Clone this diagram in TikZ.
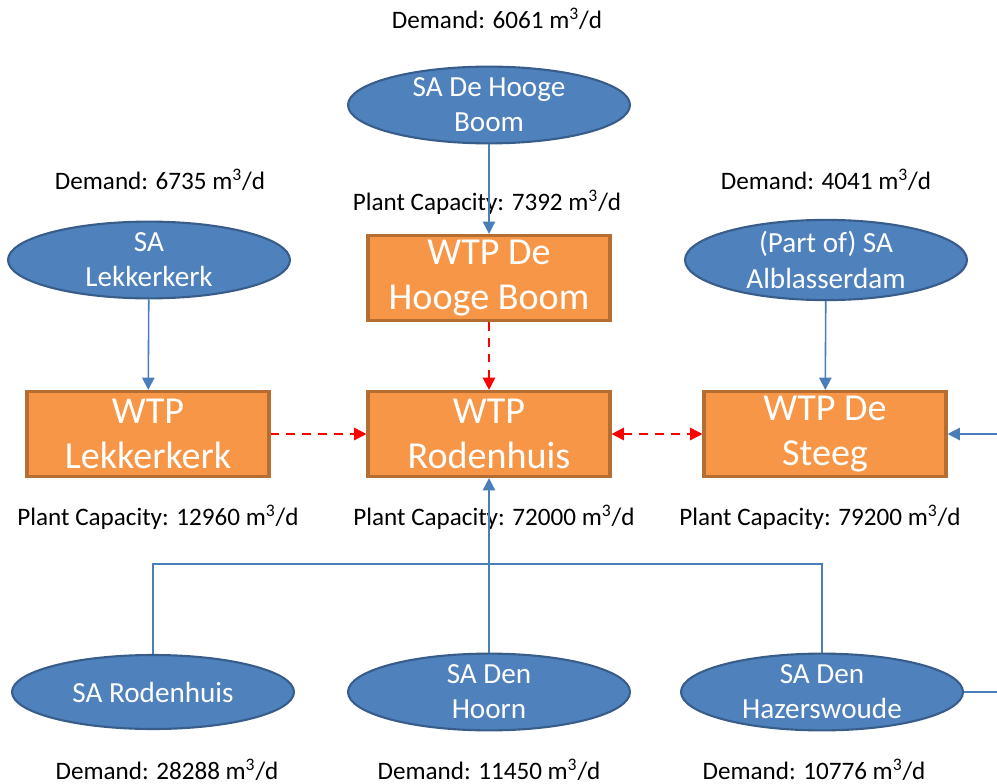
\documentclass[tikz,border=0pt]{standalone}
\usepackage{fontspec}
\setmainfont{Carlito}
\usepackage{xcolor}
\usetikzlibrary{positioning,arrows.meta,shapes.geometric}
\definecolor{safill}{HTML}{4F81BD}
\definecolor{saline}{HTML}{385D8A}
\definecolor{wtpfill}{HTML}{F79646}
\definecolor{wtpline}{HTML}{B66D31}
\definecolor{pipe}{HTML}{4A7EBB}

\begin{document}
\begin{tikzpicture}[x=0.02cm,y=-0.02cm,>={Triangle[length=7pt,width=7pt]},
	area/.style={ellipse,draw=saline,line width=1.2pt,fill=safill,text=white,minimum width=5.64cm,minimum height=1.48cm,inner sep=0pt,align=center,font=\fontsize{16.6}{20}\selectfont},
	plant/.style={rectangle,draw=wtpline,line width=1.8pt,fill=wtpfill,text=white,minimum width=4.84cm,minimum height=1.7cm,inner sep=0pt,align=center,font=\fontsize{21.7}{26}\selectfont},
	info/.style={font=\fontsize{14.3}{17}\selectfont,inner sep=0pt},
	supply/.style={->,draw=pipe,line width=0.9pt},
	transfer/.style={->,draw=red,line width=1pt,dash pattern=on 5pt off 4pt}]
	\useasboundingbox (0,0) rectangle (997,784);

	\node[area] (sahb) at (489,105) {SA De Hooge\\Boom};
	\node[area] (salk) at (149,260) {SA\\Lekkerkerk};
	\node[area] (saal) at (826,260) {(Part of) SA\\Alblasserdam};
	\node[area] (sard) at (153,692) {SA Rodenhuis};
	\node[area] (sadh) at (489,692) {SA Den\\Hoorn};
	\node[area] (sahz) at (822,692) {SA Den\\Hazerswoude};

	\node[plant] (wtphb) at (489,278) {WTP De\\Hooge Boom};
	\node[plant] (wtplk) at (148,434) {WTP\\Lekkerkerk};
	\node[plant] (wtprd) at (489,434) {WTP\\Rodenhuis};
	\node[plant] (wtpst) at (825,434) {WTP De\\Steeg};

	\node[info] (dhb) at (497,19) {Demand: 6061 m\textsuperscript{3}/d};
	\node[info] (dlk) at (160,180) {Demand: 6735 m\textsuperscript{3}/d};
	\node[info] (dal) at (826,180) {Demand: 4041 m\textsuperscript{3}/d};
	\node[info] (drd) at (167,770) {Demand: 28288 m\textsuperscript{3}/d};
	\node[info] (ddh) at (489,770) {Demand: 11450 m\textsuperscript{3}/d};
	\node[info] (dhz) at (814,770) {Demand: 10776 m\textsuperscript{3}/d};
	\node[info] (chb) at (487,202) {Plant Capacity: 7392 m\textsuperscript{3}/d};
	\node[info] (clk) at (158,517) {Plant Capacity: 12960 m\textsuperscript{3}/d};
	\node[info] (crd) at (494,517) {Plant Capacity: 72000 m\textsuperscript{3}/d};
	\node[info] (cst) at (820,517) {Plant Capacity: 79200 m\textsuperscript{3}/d};

	\coordinate (east1) at (997,434);
	\coordinate (east2) at (997,692);

	% supply from the areas
	\draw[supply] (sahb) -- (wtphb);
	\draw[supply] (salk) -- (wtplk);
	\draw[supply] (saal) -- (wtpst);
	\draw[supply] (sadh) -- (wtprd);
	\draw[supply] (east1) -- (wtpst);
	\draw[draw=pipe,line width=0.9pt] (sard.north) |- (489,564) -| (sahz.north);
	\draw[draw=pipe,line width=0.9pt] (sahz.east) -- (east2);

	% transfers between plants
	\draw[transfer] (wtphb) -- (wtprd);
	\draw[transfer] (wtplk) -- (wtprd);
	\draw[transfer,<->] (wtprd) -- (wtpst);
\end{tikzpicture}
\end{document}
